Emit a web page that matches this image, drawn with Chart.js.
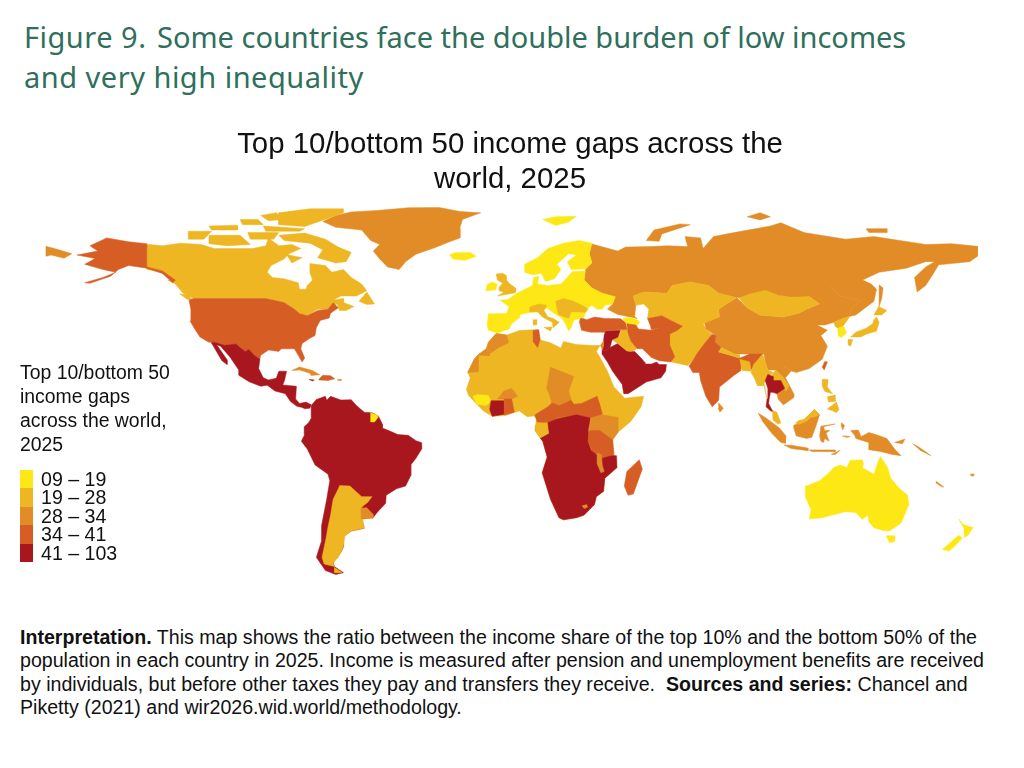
<!DOCTYPE html>
<html>
<head>
<meta charset="utf-8">
<title>Figure 9</title>
<script src="https://cdn.jsdelivr.net/npm/chart.js@4/dist/chart.umd.min.js"></script>
<style>
  html, body { margin: 0; padding: 0; background: #fff; }
  body { width: 1024px; height: 768px; position: relative; overflow: hidden; font-family: "Liberation Sans", sans-serif; color: #111; }
  #heading { position: absolute; left: 24px; top: 17px; width: 980px; font: 29px/40px "Noto Sans", sans-serif; color: #2f6f5c; white-space: nowrap; }
  #heading span { letter-spacing: 0.5px; }
  #heading b { font-weight: normal; letter-spacing: 0.5px; margin-right: 3px; }
  #map { position: absolute; left: 0; top: 120px; }
  #legend { position: absolute; left: 20px; top: 360px; font-size: 19.4px; line-height: 24px; white-space: nowrap; }
  #ranges { position: absolute; left: 20px; top: 470px; font-size: 19.6px; line-height: 18.4px; }
  #ranges div { height: 18.4px; white-space: pre; }
  #ranges i { display: inline-block; width: 13px; height: 18.4px; margin-right: 8px; vertical-align: top; }
  #note { position: absolute; left: 20px; top: 626px; font-size: 19.6px; line-height: 23.4px; white-space: nowrap; }
</style>
</head>
<body>
<div id="heading"><b>Figure 9.</b> Some countries face the double burden of low incomes<br><span>and very high inequality</span></div>
<canvas id="map" width="1020" height="480"></canvas>
<div id="legend">Top 10/bottom 50<br>income gaps<br>across the world,<br>2025</div>
<div id="ranges"></div>
<div id="note"><b>Interpretation.</b> This map shows the ratio between the income share of the top 10% and the bottom 50% of the<br>population in each country in 2025. Income is measured after pension and unemployment benefits are received<br>by individuals, but before other taxes they pay and transfers they receive.&nbsp; <b>Sources and series:</b> Chancel and<br>Piketty (2021) and wir2026.wid.world/methodology.</div>

<script>
// gap classes
const rangeLabels = ['09 – 19', '19 – 28', '28 – 34', '34 – 41', '41 – 103'];
const classColors = ['#fde816', '#edb622', '#e18c26', '#d65e25', '#a8171e'];

// outlines as [lon, lat]
const greenland = [[-73,78.2],[-68,80.5],[-62,81.8],[-52,82.4],[-40,83.4],[-28,83.5],[-20,82],[-12,81.5],[-19,79],[-20,76],[-20,72],[-24,70.5],[-30,68.2],[-37,65.8],[-41,63],[-43.5,60],[-48,61],[-51,64],[-53.5,67],[-51,69.5],[-54.5,71],[-58,75],[-68,76]];
const canada = [[-141,69.6],[-135,69],[-128,70],[-120,69.5],[-115,68],[-108,68],[-100,68],[-95,69],[-94,72],[-90,69],[-85,69.5],[-81.5,68],[-86,66],[-88,64],[-93,61.5],[-94.5,59],[-92.5,57],[-88,56.5],[-82.5,55],[-82,52.5],[-79.5,52.5],[-79,54],[-77,56],[-78,59],[-78,62.3],[-72,61.5],[-69.5,59],[-65,60],[-62,57],[-58,54.5],[-56,52],[-60,50],[-66,50],[-69,48.5],[-65,49],[-65,47.5],[-61,46],[-64,44.5],[-66.5,44.5],[-67.5,47],[-70,46],[-71,45],[-75,45],[-79,42.5],[-83,42],[-84,45],[-88,47.5],[-95,49],[-123,49],[-127,51],[-130,54.5],[-133,56],[-130,56],[-135,59],[-141,60]];
const baffin = [[-90,73],[-80,73.8],[-72,71.5],[-67,68.5],[-62,66.5],[-64,63],[-68,62.5],[-75,64.5],[-73,67.5],[-78,70],[-88,71]];
const victoriaIsland = [[-117,73],[-105,73],[-101,69.5],[-110,69],[-117,69.8]];
const banksIsland = [[-125,74.5],[-116,74.5],[-119,71.5],[-125,71.5]];
const ellesmere = [[-90,77],[-80,76.3],[-75,78],[-65,81.5],[-65,83],[-78,83],[-90,81.5]];
const axelHeiberg = [[-97,80.5],[-91,81.5],[-88,79],[-94,78.5]];
const devonIsland = [[-96,76.5],[-80,75.5],[-82,74.5],[-95,74.5]];
const melvilleIsland = [[-117,76.5],[-106,76.8],[-106,75],[-116,75]];
const somersetIsland = [[-102,74],[-90,74],[-92,71.5],[-101,71.5]];
const parryIslands = [[-105,79],[-98,79],[-96,77],[-104,77]];
const newfoundland = [[-59,48],[-56,51.5],[-53,47],[-56,46.8]];
const southampton = [[-87,65.7],[-81,64.5],[-85,62.5]];
const vancouverIsland = [[-128.3,50.8],[-125,50.3],[-123.4,48.4],[-125.5,48.8]];
const alaska = [[-141,69.8],[-148,70.5],[-156.5,72],[-163,69],[-160,67],[-168,65.5],[-161,64.2],[-165,62],[-158,60],[-153,59],[-158,57],[-165,55],[-163,54.8],[-155,57.5],[-152,60],[-148,61.5],[-141,60.5]];
const panhandle = [[-141,60.5],[-135,58.5],[-131,55],[-130,56],[-135,59.5],[-141,61]];
const chukotka = [[-180,68.8],[-175,67.5],[-170,66],[-173,64.3],[-178,65.5],[-180,65]];
const usa = [[-124.7,48.4],[-123,49],[-95,49],[-88,47.5],[-84,45],[-82,43.3],[-79,42.5],[-75,44.5],[-71,45],[-69,47.4],[-67,45.5],[-70,43.5],[-70.5,41.7],[-74,40.7],[-75.5,38],[-76,35],[-78,34],[-81,32],[-81.5,30],[-80,26.5],[-81,25],[-82.5,27.5],[-84,30],[-89,30],[-90,29],[-94,29.5],[-97,27.5],[-97.3,26],[-99.5,27.5],[-101.5,29.7],[-103,29],[-105,30.5],[-106.5,31.8],[-111,31.3],[-114.7,32.5],[-117.1,32.5],[-120.5,34.5],[-122.5,37.5],[-124.3,40.5],[-124,45]];
const mexico = [[-116,32.5],[-114.7,32.5],[-111,31.3],[-106.5,31.8],[-105,30.5],[-103,29],[-101.5,29.7],[-99.5,27.5],[-97.3,26],[-97.8,22.5],[-96,19],[-94,18.2],[-91,18.8],[-90,21.5],[-87,21.5],[-87.8,18],[-88.5,16.3],[-83.2,15.8],[-83.5,11],[-82,9.3],[-79.5,9.8],[-77.5,8.8],[-78,7.5],[-80,7.3],[-81,7.8],[-83,8.2],[-85.5,10],[-87.5,13],[-91.5,14],[-94.5,16.2],[-97,15.8],[-101.5,17.5],[-105.5,20],[-105.5,22],[-108.9,26.9],[-112.5,31],[-114,31.5],[-110,25.8],[-110,24],[-112,25.5],[-115.9,32]];
const cuba = [[-85,21.8],[-82,23.1],[-77,21.8],[-74.2,20.2],[-77.5,19.9],[-78,20.7],[-82,22]];
const hispaniola = [[-74.5,18.5],[-73,20],[-70,19.8],[-68.4,18.6],[-71,18],[-74.5,18.2]];
const jamaica = [[-78.3,18.4],[-76.3,18.2],[-77,17.8]];
const puertoRico = [[-67.2,18.5],[-65.6,18.4],[-66,17.9],[-67.2,18]];
const southAmerica = [[-77.5,8.5],[-75.5,10.8],[-72,12],[-71.5,10.5],[-70,12],[-66,10.6],[-62,10.7],[-60,8.5],[-57,6],[-54,5.8],[-51.5,4.5],[-50,1.5],[-50,0],[-48,-0.8],[-44,-2.5],[-40,-2.8],[-37,-4.8],[-35,-5.5],[-34.8,-8],[-37,-11.5],[-39,-14],[-39,-18],[-41,-22],[-44.5,-23],[-48.5,-25.5],[-48.7,-28.5],[-52,-32],[-53.4,-33.8],[-58,-34.5],[-57,-38],[-62,-39],[-65,-41],[-65,-45],[-66,-47],[-69,-51],[-68.5,-52.5],[-65,-54.8],[-68,-55.5],[-72,-54],[-75.5,-49],[-73.4,-42.5],[-73.5,-37],[-71.5,-27],[-70.3,-20],[-71,-17.5],[-76,-14],[-79,-8],[-81.3,-5],[-80,-2.5],[-80.2,0.5],[-78.5,2],[-77.3,4],[-77.5,7]];
const argentina = [[-66.5,-21.8],[-62.5,-22],[-58,-26],[-54,-26],[-55.5,-28],[-58,-30],[-57.5,-35],[-57,-38],[-62,-39],[-64.5,-41],[-65,-45],[-67,-49],[-69,-51],[-68.5,-52.5],[-72.5,-51.5],[-73.3,-49],[-71.8,-42],[-71,-37.5],[-70,-33],[-69,-27],[-67,-23]];
const fireland = [[-68.5,-52.8],[-65.5,-54.8],[-68.5,-54.8]];
const uruguay = [[-58.2,-30.3],[-56,-30.2],[-53.5,-32.8],[-53.6,-34.2],[-58,-34.4]];
const frenchGuiana = [[-54.5,5.8],[-52,4.8],[-51.7,4],[-53,2.3],[-54.5,2.3]];

const africa = [[-6,35.8],[-2,35.2],[3,36.9],[10,37.3],[11,33.3],[15,32.3],[19,30.3],[20,32.8],[25,31.6],[32,31.2],[34.2,31.3],[32.7,29],[34,27],[37,21.5],[39.5,15.5],[43,12],[43.5,11.3],[51,12],[50,8],[46,2.5],[41,-1.7],[39,-4.5],[39.5,-10],[40.7,-15],[36,-19],[35.5,-24],[32.7,-26],[32,-29],[28,-33],[25,-34],[20,-34.8],[18.3,-34],[15,-27],[11.8,-17],[13.7,-11],[12,-5],[9,-1],[9.6,3.5],[8.5,4.5],[6,4.3],[3,6.4],[1,5.9],[-2,4.8],[-7.5,4.4],[-11,6.5],[-13.5,9],[-16.7,12.4],[-17.5,14.7],[-16,19],[-17,21],[-14.5,26],[-13,27.7],[-9.8,30],[-9,32.5]];
const morocco = [[-6,35.8],[-2,35.2],[-1.2,32.3],[-5,30.5],[-8.7,28],[-8.7,27.3],[-13,27.6],[-13,21.3],[-17,21],[-14.5,26],[-13,27.7],[-9.8,30],[-9,32.5]];
const tunisia = [[8.3,36.9],[10.5,37.2],[11,33.5],[10,30.5],[8.5,32.5]];
const chad = [[15,23],[24,19.5],[22,14],[23,10.5],[18.5,8.5],[15.5,9.5],[14.5,13],[13.5,15]];
const burkina = [[-5.4,11],[-3,14],[0,15],[2.3,12],[0,11]];
const guinea = [[-15,12],[-13.5,12.6],[-9,12.3],[-8,10],[-10,8.5],[-13.5,9]];
const ivoryCoast = [[-8,10.3],[-3,10.3],[-2.8,5.2],[-7.5,4.4],[-8.5,7]];
const ghana = [[-2.9,11],[0,11],[1,6],[-2.8,4.9]];
const centralBand = [[9,5],[14,8],[15.5,9.5],[18.5,8.5],[23,10.5],[24,9],[27,9.3],[33,12],[34,9],[35,5.5],[33.5,3.5],[30,4],[25,5],[18,4],[15,2],[9.8,2.3]];
const southernAfrica = [[14,2],[18,3.6],[25,5],[30.5,3.8],[29.5,-1],[29.5,-5],[30.7,-8.5],[34,-10],[40.5,-10.5],[40.7,-15],[36,-19],[35.5,-24],[32.7,-26],[32,-29],[28,-33],[25,-34],[20,-34.8],[18.3,-34],[15,-27],[11.8,-17],[13.7,-11],[12,-5],[11,-3.8],[14.3,-2]];
const gabon = [[9,1],[13.5,2],[14.3,-2],[11,-3.8],[9,-1]];
const eastAfrica = [[30.5,3.8],[35,5],[41,4],[41,-1.7],[39,-4.5],[34,-1],[30,-1]];
const tanzania = [[30,-1],[34,-1],[39,-4.5],[39.5,-10],[34.5,-11.5],[31,-8.5],[29.5,-5]];
const malawi = [[33,-9.5],[34.7,-10],[35,-14],[35.7,-16.5],[34.5,-17],[33,-13.5]];
const lesotho = [[27.2,-29.5],[29,-29],[29.3,-30],[28,-30.5]];
const madagascar = [[49.3,-12],[50.5,-15.5],[47,-25],[45,-25.5],[43.5,-22],[44.5,-16.5]];

const arabia = [[34.9,29.5],[36,29.2],[38,30.5],[41,32],[44.5,29.2],[47.5,29],[48.5,28],[50,26.5],[51.3,25],[51.5,24.2],[54,24.2],[56,25],[57,24],[59.8,24],[59.5,21.5],[57.7,19],[52,17.4],[45,13],[43.3,13],[42.7,16.5],[39,21.5],[37,25],[34.9,28]];
const iraq = [[38.8,33.4],[41,34.4],[42.5,37.2],[44.8,37.2],[46,35],[46,33],[48.5,30.5],[47.7,29.5],[46,29],[44.5,29.2],[41,32]];
const syria = [[35.8,35.5],[36,36.8],[42,37],[41,34.4],[38.8,33.4],[38,30.5],[36,29.2],[35,29.6],[35.5,33]];
const israel = [[34.3,31.3],[35.5,33],[35.5,31],[35,29.6]];
const turkey = [[26.2,40],[27,37],[30.5,36.3],[36,36.3],[36.5,36.8],[42,37.2],[44.6,37.3],[44,40],[42,41.4],[36,41.5],[32,42],[29,41],[26.5,41.8]];
const caucasus = [[43,41.5],[46,41.8],[48.5,41],[49.5,40.2],[48.5,38.8],[45,39],[43.5,40.5]];
const iran = [[44.5,39.5],[48,39],[49,37.5],[54,37],[57,38],[61,36.5],[61,31.5],[63,27],[61.5,25],[57,25.5],[54,26.7],[50.5,30],[48.5,30],[46,33],[45,36]];
const turkmenistan = [[52.5,41.5],[55.5,42],[58,42.5],[61,41],[66,38.5],[64,37],[61,35.5],[57,38],[54,37.2],[53.5,39]];
const centralAsia = [[47,50],[51,51.5],[60,51],[62,54],[69,55.3],[76,54],[80,51],[87,49.3],[83,47],[80,45],[80.3,42],[74,39.5],[75,37.5],[77.5,35.5],[74.5,32],[71.5,28],[70,25.5],[68,23.7],[61.7,25],[61,29.5],[61,35.5],[66,38.5],[61,41],[58,42.5],[55.5,42],[52.5,41.5],[53,45],[51,47],[48,46.5]];
const russia = [[28,56],[28.5,60],[31,62.5],[30,66],[31,69.7],[41,67],[44,68.5],[54,68.7],[60,69],[68,68.7],[67,72.5],[73,72],[74,68],[78,72.5],[86,74],[100,76.5],[104,77.7],[113,74],[129,71.5],[140,72.5],[160,69.5],[170,69.8],[180,68.8],[180,65],[177,63],[165,61.8],[163,58.5],[160,54],[156.7,51.5],[155.7,57],[160,61],[163.5,63],[160,63],[152.5,60.5],[142,59],[135.6,56],[139,54.5],[141,52.5],[140,48],[133,42.8],[130.7,42.3],[131,45],[135,48.3],[127,50],[123,53.5],[117,49.7],[108,49.5],[98,50],[87,49.3],[80,51],[76,54],[69,55.3],[62,54],[60,51],[51,51.5],[47,50],[48,46.5],[47.5,42],[48.5,41.5],[41,43],[37,45],[39,47],[40,49.7],[35,51],[31,53]];
const sakhalin = [[142,54.2],[143.5,53],[143,49],[142,46],[142,50]];
const novayaZemlya = [[52,71],[57,70.7],[58,73.5],[69,77],[65,77.3],[55,75]];
const severnayaZemlya = [[91,80],[96,81.5],[100,80],[96,78.8]];
const newSiberia = [[137,75.5],[145,75.5],[145,74],[138,74]];
const mongolia = [[87.8,49.2],[92,50.7],[98,52.2],[103,50.3],[108,49.5],[115,49.8],[119,47],[114,45],[111,43.5],[105,42],[96,42.7],[91,45.5]];
const china = [[74.5,40],[80.3,42],[80,45],[83,47],[87,49.3],[91,45.5],[96,42.7],[105,42],[111,43.5],[114,45],[119,47],[115,49.8],[123,53.5],[127,50],[135,48.3],[131,45],[130.7,42.3],[128,41.5],[124.5,40],[121,39],[118,39],[122,37],[119.5,35],[122,31],[120,26],[115,22.5],[110,21],[108,21.6],[105.5,23],[102,22],[99,22],[98,25],[97.5,28],[92,28],[86,28],[81,30.5],[78.5,32.5],[79,35],[75,37.5]];
const northKorea = [[124.5,40],[128,41.5],[130.7,42.3],[129.5,40.5],[128,38.5],[126,37.8],[125,38.5]];
const southKorea = [[126,37.8],[128.3,38.5],[129.4,36],[127.5,34.3],[126.3,34.7]];
const honshu = [[141,42],[142,40],[141,36.7],[137,35.5],[135,34.5],[131,34.5],[133,36.3],[137,37.8],[139.5,39.5],[140,41]];
const kyushu = [[130,33.5],[131.8,33.5],[131,31],[130,31.5]];
const hokkaido = [[140,42.8],[141.8,46],[145,44.5],[143,42.8]];
const india = [[74.5,32],[77.5,35.5],[79,35],[78.5,32.5],[81,30.5],[80,28.8],[88,26.5],[89,26.8],[92,28],[97,28],[94,24],[92.5,22],[91.5,24.5],[89,25.5],[88.5,21.7],[86,20],[80.3,15.5],[80,10.5],[77.5,8],[75,12],[73,18],[72.5,21],[70,21],[68.5,23.5],[70,25.5],[71.5,28]];
const nepal = [[80,28.8],[81,30.5],[86,28],[88,27.8],[88,26.5]];
const bangladesh = [[88.2,26],[92,25],[92.5,21.5],[89,21.8]];
const myanmar = [[92.5,21],[93.5,24],[97,28],[98,25],[99,22],[101,21],[100,20],[97.5,17],[98.7,11],[97.5,16],[95,16],[94,18.5]];
const laos = [[100.5,20],[102,22],[105,19],[107,16],[106,14],[105,15.5],[104,18],[101,18]];
const thailand = [[98,18],[99,20.3],[101,19.5],[101,18],[104,18],[105.5,15],[102.5,13],[101,13.5],[100,13.5],[99.5,11],[99.3,9.3],[100.5,7],[101.5,6],[100,6.5],[98.3,8],[98.7,11],[99,15]];
const indochina = [[102.5,22.4],[105.5,23],[108,21.6],[105.8,19],[109,13],[109,11.5],[105,8.7],[103,11],[102.5,13],[105.5,15],[106,14],[107,16],[105,19],[102,22]];
const malaya = [[100.8,6.5],[102.5,6],[104,2],[103,1.4],[101,3]];
const sumatra = [[95.3,5.6],[98,4],[103.5,0],[106,-3],[105.8,-5.8],[104,-5.5],[100.5,-2],[97,2.5]];
const java = [[105.3,-6.5],[108,-6.5],[114.5,-7.6],[114.5,-8.6],[108,-7.8]];
const lesserSunda = [[115,-8.3],[120,-8.3],[125,-8.3],[125,-9],[116,-8.9]];
const timor = [[123.5,-10],[127,-8.4],[125,-10]];
const borneo = [[109,1],[111,1.8],[113,3],[117,7],[119,5],[117.7,1],[116,-3.5],[114,-4],[110,-3],[109,0]];
const sarawak = [[109.7,1.9],[111,1.3],[114,2.5],[115.5,4],[117,4.2],[119,5],[117,7],[113,3.3],[111,2.8]];
const sulawesi = [[119.5,0.7],[125,1.5],[120.5,0.5],[121,-1],[123,-0.9],[121.5,-2],[122.7,-5],[121,-4],[120.5,-5.5],[119.5,-5],[119,-3]];
const halmahera = [[127.4,2],[128.6,1],[128,-0.8],[127.5,0.5]];
const seram = [[127.8,-3],[130.8,-3.2],[129.5,-3.6]];
const newGuinea = [[131,-1],[134,-0.8],[135,-3.3],[138,-1.7],[141,-2.6],[145,-4],[148,-8],[150.5,-10.5],[147,-10],[143,-9],[138,-8.2],[138,-5.5],[133,-4],[132.5,-2.7]];
const newBritain = [[148,-5.5],[152,-4.2],[151,-6]];
const solomons = [[155,-6],[157,-7],[160,-9],[162,-10.5],[158,-8.5]];
const luzon = [[120,18.5],[122.3,18.4],[122,15.5],[124,13],[121,13.8],[120,16]];
const visayas = [[122,11.8],[125,12.5],[125,10],[122.5,9.8]];
const mindanao = [[122,7.2],[125.5,9.8],[126.5,7],[125.5,5.8],[124,6.5]];
const taiwan = [[121,25.2],[122,25],[120.8,22],[120,23]];
const sriLanka = [[80,9.5],[81.8,7.5],[80.5,6],[79.8,7.5]];
const australia = [[113.5,-22],[114.5,-21.8],[119,-20],[122,-17.5],[124.5,-15],[127,-14],[129.5,-15],[130.8,-12.3],[135.5,-12],[136,-13.5],[135.5,-15],[140,-17.5],[141.5,-13],[142.5,-10.8],[145.3,-15],[146.5,-19],[149.5,-22.5],[153,-25.5],[153.5,-29],[150.5,-36],[146,-39],[143.5,-38.8],[140,-37.8],[138,-35.5],[137.7,-33],[135.5,-34.7],[133,-32],[129,-31.7],[124,-33],[120,-34],[115,-34.5],[115.7,-31],[113.5,-26]];
const tasmania = [[144.8,-40.8],[148.2,-40.8],[148,-43],[146,-43.5]];
const nzNorth = [[172.8,-34.5],[174.5,-36.5],[175.8,-37],[178.3,-37.7],[176.5,-40.5],[175,-41.5],[174.8,-39.5],[174.8,-38]];
const nzSouth = [[172.7,-40.6],[174.2,-41.7],[171,-45],[169,-46.6],[166.5,-46],[170,-43]];
const newCaledonia = [[164,-20.2],[167,-22.4],[166,-22.2],[164,-20.8]];
const fiji = [[177.4,-17.4],[178.8,-17.5],[178.4,-18.3],[177.4,-18]];

const europe = [[-9,43.3],[-2,43.4],[-1,46],[-4.5,48.4],[-1.5,48.7],[2,51],[4,52],[8,54],[8.5,57],[10.5,57.5],[10,54.5],[14,54],[19,54.5],[21,56.5],[23.5,59.3],[28.5,59.5],[28,56],[31,53],[35,51],[40,49.7],[39,47],[36,46.5],[35,45],[33,45],[31,46.5],[29,45],[28,42],[24,40.8],[23,38],[22,36.7],[21,39],[19.5,41.5],[16,43.7],[13.5,45.5],[12,44.2],[13,42],[16,41.5],[18,40],[16,38],[15.8,40],[12,42],[10,44],[7,43.7],[3.2,43],[3,41.8],[0,39.5],[-1,37.5],[-5.5,36],[-9,37],[-9.5,39]];
const scandinavia = [[5,59],[5,62],[10,64.5],[14,68],[20,70],[26,71],[31,70],[30,66],[31,62.5],[28.5,60.3],[23,60],[21.5,63],[25,65.5],[22,66],[17.5,62],[19,60],[16.5,56.5],[13,55.5],[11.5,58.5],[8,58]];
const italy = [[7,44],[7,45.8],[10.5,47],[13.5,46.5],[12.5,44.5],[14,42],[16,41.5],[18.4,40],[16,38],[15.8,40],[12,42],[10,44]];
const sardinia = [[8.3,41],[9.7,41],[9.6,39.1],[8.5,39]];
const sicily = [[12.5,38.1],[15.6,38.2],[15,36.7]];
const danube = [[17,48],[20,49],[24,48],[28,46],[29.5,45],[28.5,43.8],[23,44],[22,41.5],[18,43]];
const britain = [[-5.5,50],[1.5,51.2],[1.7,52.8],[-1,54.8],[-2,56],[-2,57.7],[-3.5,58.6],[-6,58.3],[-5.5,56],[-3.5,54.8],[-4.8,53.3],[-4.8,52],[-3,51.4]];
const ireland = [[-10,52],[-9.5,54.3],[-7.5,55.3],[-5.6,54.5],[-6.2,52.3]];
const iceland = [[-24,65.5],[-22,66.4],[-16,66.5],[-13.7,65],[-18,63.5],[-22.5,63.9]];
const svalbard = [[12,79],[17,80],[25,80.2],[22,78],[17,76.7]];

// paint order is bottom to top, second value is the gap class
const regions = [
  [greenland,2],[canada,1],[baffin,1],[victoriaIsland,1],[banksIsland,1],[ellesmere,1],[axelHeiberg,1],[devonIsland,1],[melvilleIsland,1],[somersetIsland,1],[parryIslands,1],[newfoundland,1],[southampton,1],[vancouverIsland,1],
  [alaska,3],[panhandle,3],[chukotka,2],[usa,3],[mexico,4],[cuba,2],[hispaniola,3],[jamaica,4],[puertoRico,2],
  [southAmerica,4],[argentina,1],[fireland,1],[uruguay,2],[frenchGuiana,0],
  [africa,1],[morocco,2],[tunisia,3],[chad,2],[burkina,2],[guinea,0],[ivoryCoast,4],[ghana,3],[centralBand,3],[southernAfrica,4],[gabon,1],[eastAfrica,2],[tanzania,3],[malawi,2],[lesotho,2],[madagascar,3],
  [russia,2],[sakhalin,2],[novayaZemlya,2],[severnayaZemlya,2],[newSiberia,2],[china,2],[centralAsia,1],[mongolia,1],[northKorea,1],[southKorea,0],[honshu,1],[kyushu,1],[hokkaido,1],
  [arabia,4],[iraq,1],[syria,4],[israel,2],[turkey,3],[caucasus,0],[iran,3],[turkmenistan,3],
  [india,3],[nepal,1],[bangladesh,1],[myanmar,1],[indochina,2],[laos,1],[thailand,4],[malaya,1],[sumatra,2],[java,2],[lesserSunda,2],[timor,2],[borneo,2],[sarawak,1],[sulawesi,2],[halmahera,2],[seram,2],[newGuinea,2],[newBritain,2],[solomons,2],[luzon,1],[visayas,1],[mindanao,1],[taiwan,3],[sriLanka,2],
  [australia,0],[tasmania,0],[nzNorth,0],[nzSouth,0],[newCaledonia,2],[fiji,2],
  [europe,0],[scandinavia,0],[italy,1],[sardinia,1],[sicily,1],[danube,1],[britain,1],[ireland,0],[iceland,0],[svalbard,0]
];

// legend rows
document.getElementById('ranges').innerHTML = rangeLabels.map((label, i) =>
  '<div><i style="background:' + classColors[i] + '"></i>' + label + '</div>').join('');

// chart.js draws first dataset on top, so flip the paint order
const datasets = regions.slice().reverse().map(([outline, cls]) => ({
  data: outline.concat([outline[0]]).map(p => ({ x: p[0], y: p[1] })),
  fill: 'shape',
  backgroundColor: classColors[cls],
  borderColor: classColors[cls],
  borderWidth: 0.5,
  pointRadius: 0,
  tension: 0,
  clip: false
}));

new Chart(document.getElementById('map'), {
  type: 'line',
  data: { datasets },
  options: {
    responsive: false,
    animation: false,
    events: [],
    layout: { padding: 0 },
    scales: {
      x: { type: 'linear', display: false, min: -197.76, max: 196.45 },
      y: { type: 'linear', display: false, min: -65.15, max: 86.36 }
    },
    plugins: {
      legend: { display: false },
      tooltip: { enabled: false },
      filler: { drawTime: 'beforeDatasetDraw' },
      title: {
        display: true,
        text: ['Top 10/bottom 50 income gaps across the', 'world, 2025'],
        color: '#111',
        font: { family: '"Liberation Sans", sans-serif', size: 29.4, weight: 'normal', lineHeight: 1.2 },
        padding: { top: 7, bottom: 2.4 }
      }
    }
  }
});
</script>
</body>
</html>
